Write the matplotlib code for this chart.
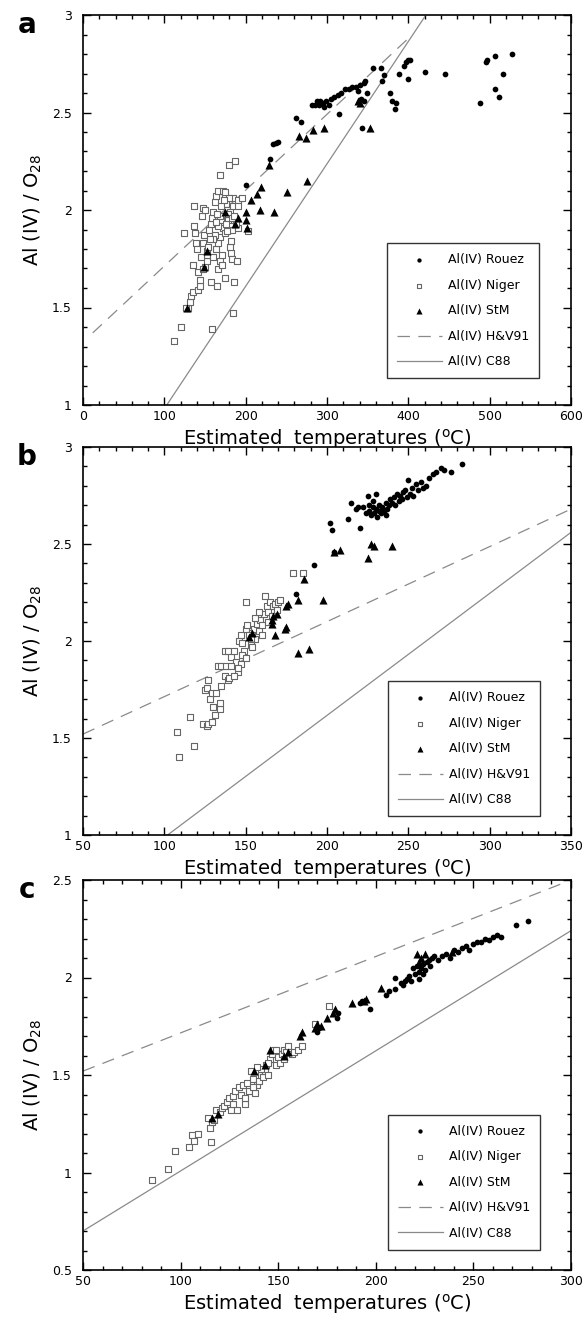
import numpy as np
import matplotlib
matplotlib.use('Agg')
import matplotlib.pyplot as plt
from matplotlib.ticker import MultipleLocator, FormatStrFormatter

plt.rcParams['font.family'] = ['DejaVu Sans']
plt.rcParams['lines.scale_dashes'] = False

# ---- panel a ----
a_rouez_x = [200, 230, 234, 237, 240, 262, 268, 281, 285, 288, 290, 295, 299, 302, 308, 313, 317, 322,
             327, 331, 336, 341, 345, 347, 349, 345, 315, 343, 356, 366, 368, 370, 378, 380, 384, 385,
             389, 395, 397, 399, 402, 400, 420, 445, 488, 496, 497, 507, 507, 512, 516, 528, 292, 296,
             305, 338, 342]
a_rouez_y = [2.13, 2.26, 2.34, 2.345, 2.35, 2.47, 2.45, 2.54, 2.54, 2.56, 2.54, 2.55, 2.56, 2.54, 2.58,
             2.59, 2.60, 2.62, 2.62, 2.63, 2.63, 2.64, 2.65, 2.66, 2.60, 2.56, 2.49, 2.42, 2.73, 2.73,
             2.66, 2.69, 2.60, 2.56, 2.52, 2.55, 2.70, 2.74, 2.76, 2.77, 2.77, 2.67, 2.71, 2.70, 2.55,
             2.76, 2.77, 2.79, 2.62, 2.58, 2.70, 2.80, 2.56, 2.53, 2.57, 2.61, 2.57]
a_niger_x = [112, 120, 124, 129, 131, 133, 135, 136, 137, 138, 139, 135, 142, 144, 141, 144, 146, 148,
             150, 148, 149, 150, 152, 153, 153, 154, 155, 157, 159, 160, 157, 158, 162, 164, 166, 164,
             166, 168, 165, 166, 168, 171, 169, 172, 174, 176, 177, 178, 181, 182, 183, 184, 185, 175,
             179, 187, 182, 181, 182, 183, 186, 185, 189, 190, 191, 191, 203, 170, 172, 174, 176, 178,
             180, 170, 168, 166, 162, 160, 163, 165, 173, 175, 177, 183, 186, 188, 195, 171, 160, 156,
             145, 147, 140, 127]
a_niger_y = [1.33, 1.40, 1.88, 1.50, 1.53, 1.56, 1.58, 2.02, 1.92, 1.88, 1.83, 1.72, 1.59, 1.61, 1.68,
             1.64, 1.97, 2.01, 2.00, 1.83, 1.87, 1.71, 1.74, 1.77, 1.79, 1.81, 1.90, 1.93, 1.96, 1.99,
             1.63, 1.39, 2.04, 2.07, 2.10, 1.80, 1.83, 1.86, 1.61, 1.70, 1.74, 1.72, 2.18, 2.10, 2.07,
             2.03, 2.00, 1.95, 1.99, 1.92, 1.90, 2.02, 2.06, 1.65, 2.23, 2.25, 1.78, 1.81, 1.84, 1.75,
             1.63, 1.47, 1.74, 2.05, 2.02, 1.91, 1.89, 1.95, 1.91, 1.88, 1.93, 1.98, 2.06, 2.02, 1.97,
             1.92, 1.87, 1.85, 1.94, 1.98, 2.05, 2.09, 1.89, 1.96, 1.97, 1.93, 2.06, 1.77, 1.76, 1.85,
             1.76, 1.70, 1.80, 1.50]
a_stm_x = [128, 149, 152, 175, 187, 190, 200, 201, 202, 207, 214, 219, 218, 229, 235, 251, 265, 274,
           283, 296, 276, 338, 341, 353]
a_stm_y = [1.50, 1.71, 1.79, 1.99, 1.93, 1.96, 1.99, 1.95, 1.91, 2.05, 2.08, 2.12, 2.00, 2.23, 1.99,
           2.09, 2.38, 2.37, 2.41, 2.42, 2.15, 2.56, 2.55, 2.42]
a_hv_x = [12, 400]
a_hv_y = [1.37, 2.88]
a_c88_x = [103, 420]
a_c88_y = [1.0, 2.99]

# ---- panel b ----
b_rouez_x = [181, 192, 202, 203, 204, 213, 215, 218, 219, 220, 225, 230, 224, 226, 227, 228, 229, 230,
             231, 232, 233, 234, 235, 236, 237, 238, 239, 240, 241, 242, 243, 244, 245, 246, 247, 248,
             249, 250, 251, 252, 253, 255, 256, 258, 259, 261, 263, 265, 267, 270, 272, 276, 283, 228,
             232, 236, 226, 222]
b_rouez_y = [2.24, 2.39, 2.61, 2.57, 2.46, 2.63, 2.71, 2.68, 2.69, 2.58, 2.75, 2.76, 2.66, 2.67, 2.65,
             2.69, 2.66, 2.68, 2.64, 2.70, 2.66, 2.69, 2.67, 2.71, 2.68, 2.70, 2.73, 2.71, 2.74, 2.70,
             2.76, 2.72, 2.75, 2.73, 2.77, 2.78, 2.74, 2.83, 2.76, 2.79, 2.75, 2.81, 2.78, 2.82, 2.79,
             2.80, 2.84, 2.86, 2.87, 2.89, 2.88, 2.87, 2.91, 2.72, 2.67, 2.65, 2.70, 2.69]
b_niger_x = [107.6, 109, 116, 118, 124, 126, 127, 129, 125, 126, 127, 128, 129, 130, 131, 132, 134, 134,
             135, 133, 135, 137, 137, 139, 140, 139, 141, 143, 144, 145, 147, 146, 147, 148, 149, 150,
             151, 150, 153, 154, 155, 156, 157, 158, 159, 160, 161, 162, 163, 164, 165, 166, 167, 168,
             169, 170, 171, 179, 185, 143, 145, 148, 152, 154, 156, 160, 153, 138, 141, 158, 164, 150]
b_niger_y = [1.53, 1.40, 1.61, 1.46, 1.57, 1.56, 1.57, 1.58, 1.75, 1.76, 1.80, 1.70, 1.73, 1.66, 1.62,
             1.73, 1.65, 1.68, 1.77, 1.87, 1.87, 1.95, 1.82, 1.80, 1.81, 1.95, 1.92, 1.95, 1.89, 1.84,
             1.88, 2.00, 2.03, 1.99, 1.95, 2.06, 2.08, 2.20, 1.98, 2.04, 2.06, 2.01, 2.09, 2.05, 2.11,
             2.08, 2.14, 2.23, 2.18, 2.15, 2.20, 2.13, 2.18, 2.19, 2.16, 2.20, 2.21, 2.35, 2.35, 1.82,
             1.86, 1.93, 2.03, 1.97, 2.12, 2.03, 2.01, 1.87, 1.87, 2.15, 2.10, 1.91]
b_stm_x = [152, 154, 166, 167, 168, 169, 175, 176, 174, 175, 182, 182, 186, 189, 197.5, 204, 208, 225,
           227, 229, 240, 166]
b_stm_y = [2.02, 2.04, 2.11, 2.13, 2.03, 2.14, 2.18, 2.19, 2.06, 2.07, 2.21, 1.94, 2.32, 1.96, 2.21,
           2.46, 2.47, 2.43, 2.50, 2.49, 2.49, 2.09]
b_hv_x = [50, 350]
b_hv_y = [1.52, 2.68]
b_c88_x = [102, 350]
b_c88_y = [1.0, 2.56]

# ---- panel c ----
c_rouez_x = [170, 171, 180, 180.5, 192, 193, 197, 205, 207, 210, 210, 213, 214, 215, 216, 218, 219, 220,
             221, 222, 223, 224, 225, 226, 227, 228, 229, 230, 232, 234, 236, 238, 240, 242, 244, 246,
             248, 250, 252, 254, 256, 258, 260, 262, 264, 272, 278, 224, 222, 217]
c_rouez_y = [1.72, 1.74, 1.79, 1.82, 1.87, 1.88, 1.84, 1.91, 1.93, 2.00, 1.94, 1.97, 1.96, 1.98, 1.99,
             1.98, 2.05, 2.02, 2.06, 2.03, 2.05, 2.07, 2.04, 2.08, 2.09, 2.06, 2.10, 2.11, 2.09, 2.11,
             2.12, 2.10, 2.14, 2.13, 2.15, 2.16, 2.14, 2.17, 2.18, 2.18, 2.20, 2.19, 2.21, 2.22, 2.21,
             2.27, 2.29, 2.02, 1.99, 2.01]
c_niger_x = [85.5, 93.6, 97, 104.5, 106, 107, 109, 115.6, 114, 115, 116, 117, 118, 120, 121, 122, 124,
             125, 127, 128, 126, 129, 130, 131, 132, 133, 134, 135, 136, 137, 138, 139, 140, 141, 142,
             143, 144, 145, 146, 147, 148, 149, 150, 151, 152, 153, 154, 155, 156, 157, 158, 160, 162,
             168.7, 175.8, 127, 133, 137, 141, 145, 139, 149, 153]
c_niger_y = [0.96, 1.02, 1.11, 1.13, 1.19, 1.16, 1.20, 1.155, 1.28, 1.23, 1.26, 1.27, 1.32, 1.31, 1.33,
             1.34, 1.36, 1.38, 1.39, 1.42, 1.32, 1.32, 1.44, 1.40, 1.45, 1.35, 1.46, 1.42, 1.52, 1.48,
             1.41, 1.45, 1.47, 1.50, 1.49, 1.52, 1.55, 1.50, 1.58, 1.61, 1.63, 1.55, 1.59, 1.56, 1.61,
             1.63, 1.62, 1.65, 1.62, 1.61, 1.62, 1.63, 1.65, 1.76, 1.855, 1.35, 1.38, 1.44, 1.53, 1.56,
             1.54, 1.63, 1.58]
c_stm_x = [116, 119, 137.5, 146, 153, 161, 162, 169, 170, 172, 175, 178, 179, 188, 194, 195, 202.5, 221,
           222, 223, 225, 239, 155, 143]
c_stm_y = [1.28, 1.30, 1.52, 1.63, 1.60, 1.70, 1.72, 1.74, 1.76, 1.75, 1.79, 1.82, 1.84, 1.87, 1.88,
           1.89, 1.945, 2.12, 2.08, 2.10, 2.12, 2.13, 1.62, 1.55]
c_hv_x = [50, 295]
c_hv_y = [1.52, 2.48]
c_c88_x = [50, 300]
c_c88_y = [0.70, 2.24]

panels = [
    dict(letter='a', rouez=(a_rouez_x, a_rouez_y), niger=(a_niger_x, a_niger_y), stm=(a_stm_x, a_stm_y),
         hv=(a_hv_x, a_hv_y), c88=(a_c88_x, a_c88_y), xlim=(0, 600), ylim=(1, 3),
         xmaj=100, xmin=20, leg=(0.935, 0.068)),
    dict(letter='b', rouez=(b_rouez_x, b_rouez_y), niger=(b_niger_x, b_niger_y), stm=(b_stm_x, b_stm_y),
         hv=(b_hv_x, b_hv_y), c88=(b_c88_x, b_c88_y), xlim=(50, 350), ylim=(1, 3),
         xmaj=50, xmin=10, leg=(0.937, 0.048)),
    dict(letter='c', rouez=(c_rouez_x, c_rouez_y), niger=(c_niger_x, c_niger_y), stm=(c_stm_x, c_stm_y),
         hv=(c_hv_x, c_hv_y), c88=(c_c88_x, c_c88_y), xlim=(50, 300), ylim=(0.5, 2.5),
         xmaj=50, xmin=10, leg=(0.937, 0.052)),
]

# axes boxes in pixels: (top, bottom)
W, H = 584, 1328
left_px, right_px = 83, 571
boxes = [(15, 405), (447, 835), (880, 1270)]

fig = plt.figure(figsize=(W / 100, H / 100), dpi=100)

line_grey = '#8a8a8a'

for p, (top, bot) in zip(panels, boxes):
    ax = fig.add_axes([left_px / W, 1 - bot / H, (right_px - left_px) / W, (bot - top) / H])
    ax.plot(p['hv'][0], p['hv'][1], color=line_grey, lw=0.9, dashes=(9, 6), label='Al(IV) H&V91', zorder=2)
    ax.plot(p['c88'][0], p['c88'][1], color=line_grey, lw=0.9, label='Al(IV) C88', zorder=2)
    ax.scatter(p['niger'][0], p['niger'][1], marker='s', s=22, facecolors='white',
               edgecolors='#666666', linewidths=0.8, label='Al(IV) Niger', zorder=3)
    ax.scatter(p['stm'][0], p['stm'][1], marker='^', s=34, color='black', linewidths=0, label='Al(IV) StM', zorder=4)
    ax.scatter(p['rouez'][0], p['rouez'][1], marker='o', s=17, color='black', linewidths=0, label='Al(IV) Rouez', zorder=4)

    ax.set_xlim(*p['xlim'])
    ax.set_ylim(*p['ylim'])
    ax.xaxis.set_major_locator(MultipleLocator(p['xmaj']))
    ax.xaxis.set_minor_locator(MultipleLocator(p['xmin']))
    ax.yaxis.set_major_locator(MultipleLocator(0.5))
    ax.yaxis.set_minor_locator(MultipleLocator(0.1))
    ax.yaxis.set_major_formatter(FormatStrFormatter('%g'))
    ax.tick_params(which='both', direction='in', top=True, right=True, width=1, labelsize=9)
    ax.tick_params(which='major', length=6)
    ax.tick_params(which='minor', length=3)
    ax.tick_params(axis='y', pad=8)
    for s in ax.spines.values():
        s.set_linewidth(1.2)

    ax.set_xlabel('Estimated  temperatures ($^{\\rm o}$C)', fontsize=14, labelpad=3)
    ax.set_ylabel('Al (IV) / O$_{28}$', fontsize=14, labelpad=6)

    handles, labels = ax.get_legend_handles_labels()
    order = ['Al(IV) Rouez', 'Al(IV) Niger', 'Al(IV) StM', 'Al(IV) H&V91', 'Al(IV) C88']
    hmap = dict(zip(labels, handles))
    leg = ax.legend([hmap[k] for k in order], order, loc='lower right', bbox_to_anchor=p['leg'],
                    borderaxespad=0, fontsize=9, frameon=True, fancybox=False, edgecolor='black',
                    handlelength=3.6, handletextpad=0.5, labelspacing=1.0, borderpad=0.8,
                    markerscale=0.75)
    leg.get_frame().set_linewidth(1.0)

    fig.text(27 / W, 1 - (top + 10) / H, p['letter'], fontsize=20, fontweight='bold',
             ha='center', va='center')

fig.savefig('out.png', dpi=100)
